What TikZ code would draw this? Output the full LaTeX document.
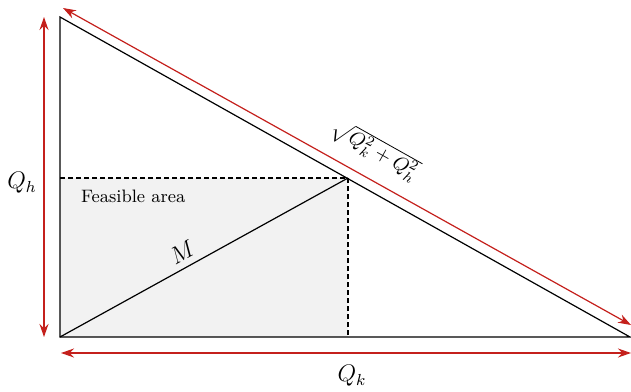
\documentclass[tikz,border=0pt]{standalone}
\usepackage{amsmath}
\usetikzlibrary{arrows.meta}
\definecolor{arrowred}{RGB}{196,32,28}
\definecolor{feasgray}{RGB}{242,242,242}

\begin{document}
\begin{tikzpicture}[
  x=0.5pt, y=-0.5pt,
  edge/.style={black, line width=0.6pt},
  guide/.style={black, line width=0.6pt, dash pattern=on 2.5pt off 1.5pt},
  dim/.style={{Stealth[length=6.5pt, width=4.5pt]}-{Stealth[length=6.5pt, width=4.5pt]}, color=arrowred, line width=0.6pt},
  lab/.style={font=\small},
  mlab/.style={font=\large}
]
  \useasboundingbox (0,0) rectangle (631,391);

  % triangle corners and the point M
  \coordinate (top) at (60,17);
  \coordinate (origin) at (60,337);
  \coordinate (right) at (630,337);
  \coordinate (P) at (348,178);
  \coordinate (Ph) at (60,178);
  \coordinate (Pk) at (348,337);

  % ends of the dimension arrows
  \coordinate (hTop) at (44,17);
  \coordinate (hBot) at (44,337);
  \coordinate (kLeft) at (61,353);
  \coordinate (kRight) at (631,353);
  \coordinate (sTop) at (63,8);
  \coordinate (sBot) at (631,325);

  \fill[feasgray] (origin) rectangle (P);
  \draw[edge] (top) -- (origin) -- (right) -- cycle;
  \draw[guide] (Ph) -- (P) -- (Pk);
  \draw[edge] (origin) -- (P) node[pos=0.45, sloped, above=0pt, mlab] (M) {$M$};

  \draw[dim] (hTop) -- (hBot);
  \draw[dim] (kLeft) -- (kRight);
  \draw[dim] (sTop) -- (sBot);

  \node[mlab] (Qh) at (22,183) {$Q_h$};
  \node[mlab] (Qk) at (352,376) {$Q_k$};
  \node[lab, anchor=west] (feas) at (74,196) {Feasible area};
  \node[font=\normalsize, rotate=-29.3] (hyp) at (375,150) {$\sqrt{Q_k^2 + Q_h^2}$};
\end{tikzpicture}
\end{document}
